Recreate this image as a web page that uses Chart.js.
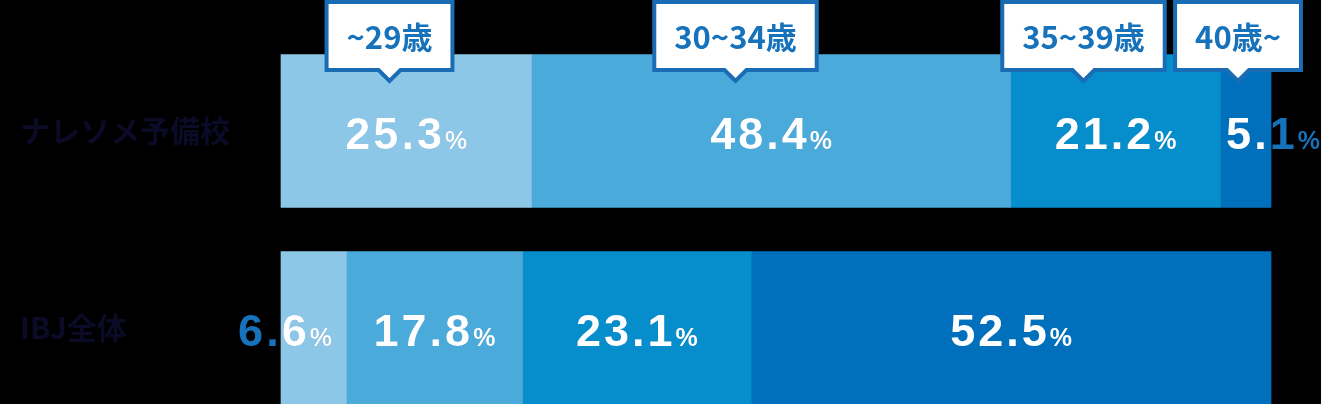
<!DOCTYPE html>
<html>
<head>
<meta charset="utf-8">
<script src="https://cdn.jsdelivr.net/npm/chart.js@4"></script>
<style>
html,body{margin:0;padding:0;background:#000;}
#wrap{width:1321px;height:404px;position:relative;}
</style>
</head>
<body>
<div id="wrap"><canvas id="c" width="1321" height="404"></canvas></div>
<script>
const categories = ['ナレソメ予備校', 'IBJ全体'];
const ageGroups = ['~29歳', '30~34歳', '35~39歳', '40歳~'];
const age29 = [25.3, 6.6];
const age30 = [48.4, 17.8];
const age35 = [21.2, 23.1];
const age40 = [5.1, 52.5];
const calloutAt = [10.96, 45.91, 81.06, 96.67];
const colors = ['#8dc7e7', '#4aaad9', '#068dcb', '#0070bc'];

const seriesValues = [age29, age30, age35, age40];
const BLUE = '#1672ba';

const labelPlugin = {
  id: 'labels',
  afterDatasetsDraw(chart) {
    const ctx = chart.ctx;
    const nDs = chart.data.datasets.length;
    chart.data.datasets.forEach((ds, di) => {
      const meta = chart.getDatasetMeta(di);
      meta.data.forEach((bar, idx) => {
        const v = ds.data[idx];
        const p = bar.getProps(['x', 'y', 'base', 'height'], true);
        const left = Math.min(p.x, p.base), right = Math.max(p.x, p.base);
        let cx = (left + right) / 2;
        if (v < 10) {
          if (di === 0) cx = left + 4;
          else if (di === nDs - 1) cx = right + 2;
        }
        const numStr = v.toFixed(1);
        const ls = 3;
        ctx.save();
        ctx.font = 'bold 45px "Liberation Sans", Arial, sans-serif';
        ctx.letterSpacing = ls + 'px';
        const wNum = ctx.measureText(numStr).width - ls;
        ctx.font = 'bold 25px "Liberation Sans", Arial, sans-serif';
        ctx.letterSpacing = '0px';
        const wPct = ctx.measureText('%').width;
        const gap = 3;
        const total = wNum + gap + wPct;
        const x0 = cx - total / 2;
        const by = p.y + 18;
        const drawText = (col) => {
          ctx.fillStyle = col;
          ctx.textBaseline = 'alphabetic';
          ctx.textAlign = 'left';
          ctx.font = 'bold 45px "Liberation Sans", Arial, sans-serif';
          ctx.letterSpacing = ls + 'px';
          ctx.fillText(numStr, x0, by);
          ctx.font = 'bold 25px "Liberation Sans", Arial, sans-serif';
          ctx.letterSpacing = '0px';
          ctx.fillText('%', x0 + wNum + gap, by);
        };
        drawText(BLUE);
        ctx.beginPath();
        ctx.rect(left, p.y - p.height / 2, right - left, p.height);
        ctx.clip();
        drawText('#ffffff');
        ctx.restore();
      });
    });
  }
};

const calloutPlugin = {
  id: 'callouts',
  afterDraw(chart) {
    const ctx = chart.ctx;
    const xs = chart.scales.x;
    ctx.save();
    ctx.font = 'bold 31px "Noto Sans CJK JP", sans-serif';
    ageGroups.forEach((txt, i) => {
      const cx = xs.getPixelForValue(calloutAt[i]);
      const tw = ctx.measureText(txt).width;
      const w = tw + 40;
      const top = 2, bot = 70, bw = 4;
      const l = cx - w / 2, r = cx + w / 2;
      const tri = 11, tipY = bot + 11;
      ctx.beginPath();
      ctx.moveTo(l, top);
      ctx.lineTo(r, top);
      ctx.lineTo(r, bot);
      ctx.lineTo(cx + tri, bot);
      ctx.lineTo(cx, tipY);
      ctx.lineTo(cx - tri, bot);
      ctx.lineTo(l, bot);
      ctx.closePath();
      ctx.fillStyle = '#ffffff';
      ctx.fill();
      ctx.lineWidth = bw;
      ctx.lineJoin = 'miter';
      ctx.strokeStyle = '#1a6db5';
      ctx.stroke();
      ctx.fillStyle = BLUE;
      ctx.textAlign = 'center';
      ctx.textBaseline = 'middle';
      ctx.fillText(txt, cx, (top + bot) / 2 + 1);
    });
    ctx.restore();
  }
};

new Chart(document.getElementById('c'), {
  type: 'bar',
  data: {
    labels: categories,
    datasets: seriesValues.map((vals, i) => ({
      label: ageGroups[i],
      data: vals,
      backgroundColor: colors[i],
      borderWidth: 0,
      barThickness: 153,
      clip: false
    }))
  },
  options: {
    indexAxis: 'y',
    responsive: false,
    animation: false,
    devicePixelRatio: 1,
    layout: { padding: { top: 131, bottom: 76, left: 20, right: 50 } },
    plugins: { legend: { display: false }, tooltip: { enabled: false } },
    scales: {
      x: { stacked: true, min: 0, max: 100, display: false },
      y: {
        stacked: true,
        offset: false,
        grid: { display: false },
        border: { display: false },
        afterFit(scale) { scale.width = 261; },
        ticks: {
          crossAlign: 'far',
          padding: 0,
          color: '#0b0b28',
          font: { family: '"Noto Sans CJK JP", sans-serif', size: 30, weight: 'bold' }
        }
      }
    }
  },
  plugins: [labelPlugin, calloutPlugin]
});
</script>
</body>
</html>
